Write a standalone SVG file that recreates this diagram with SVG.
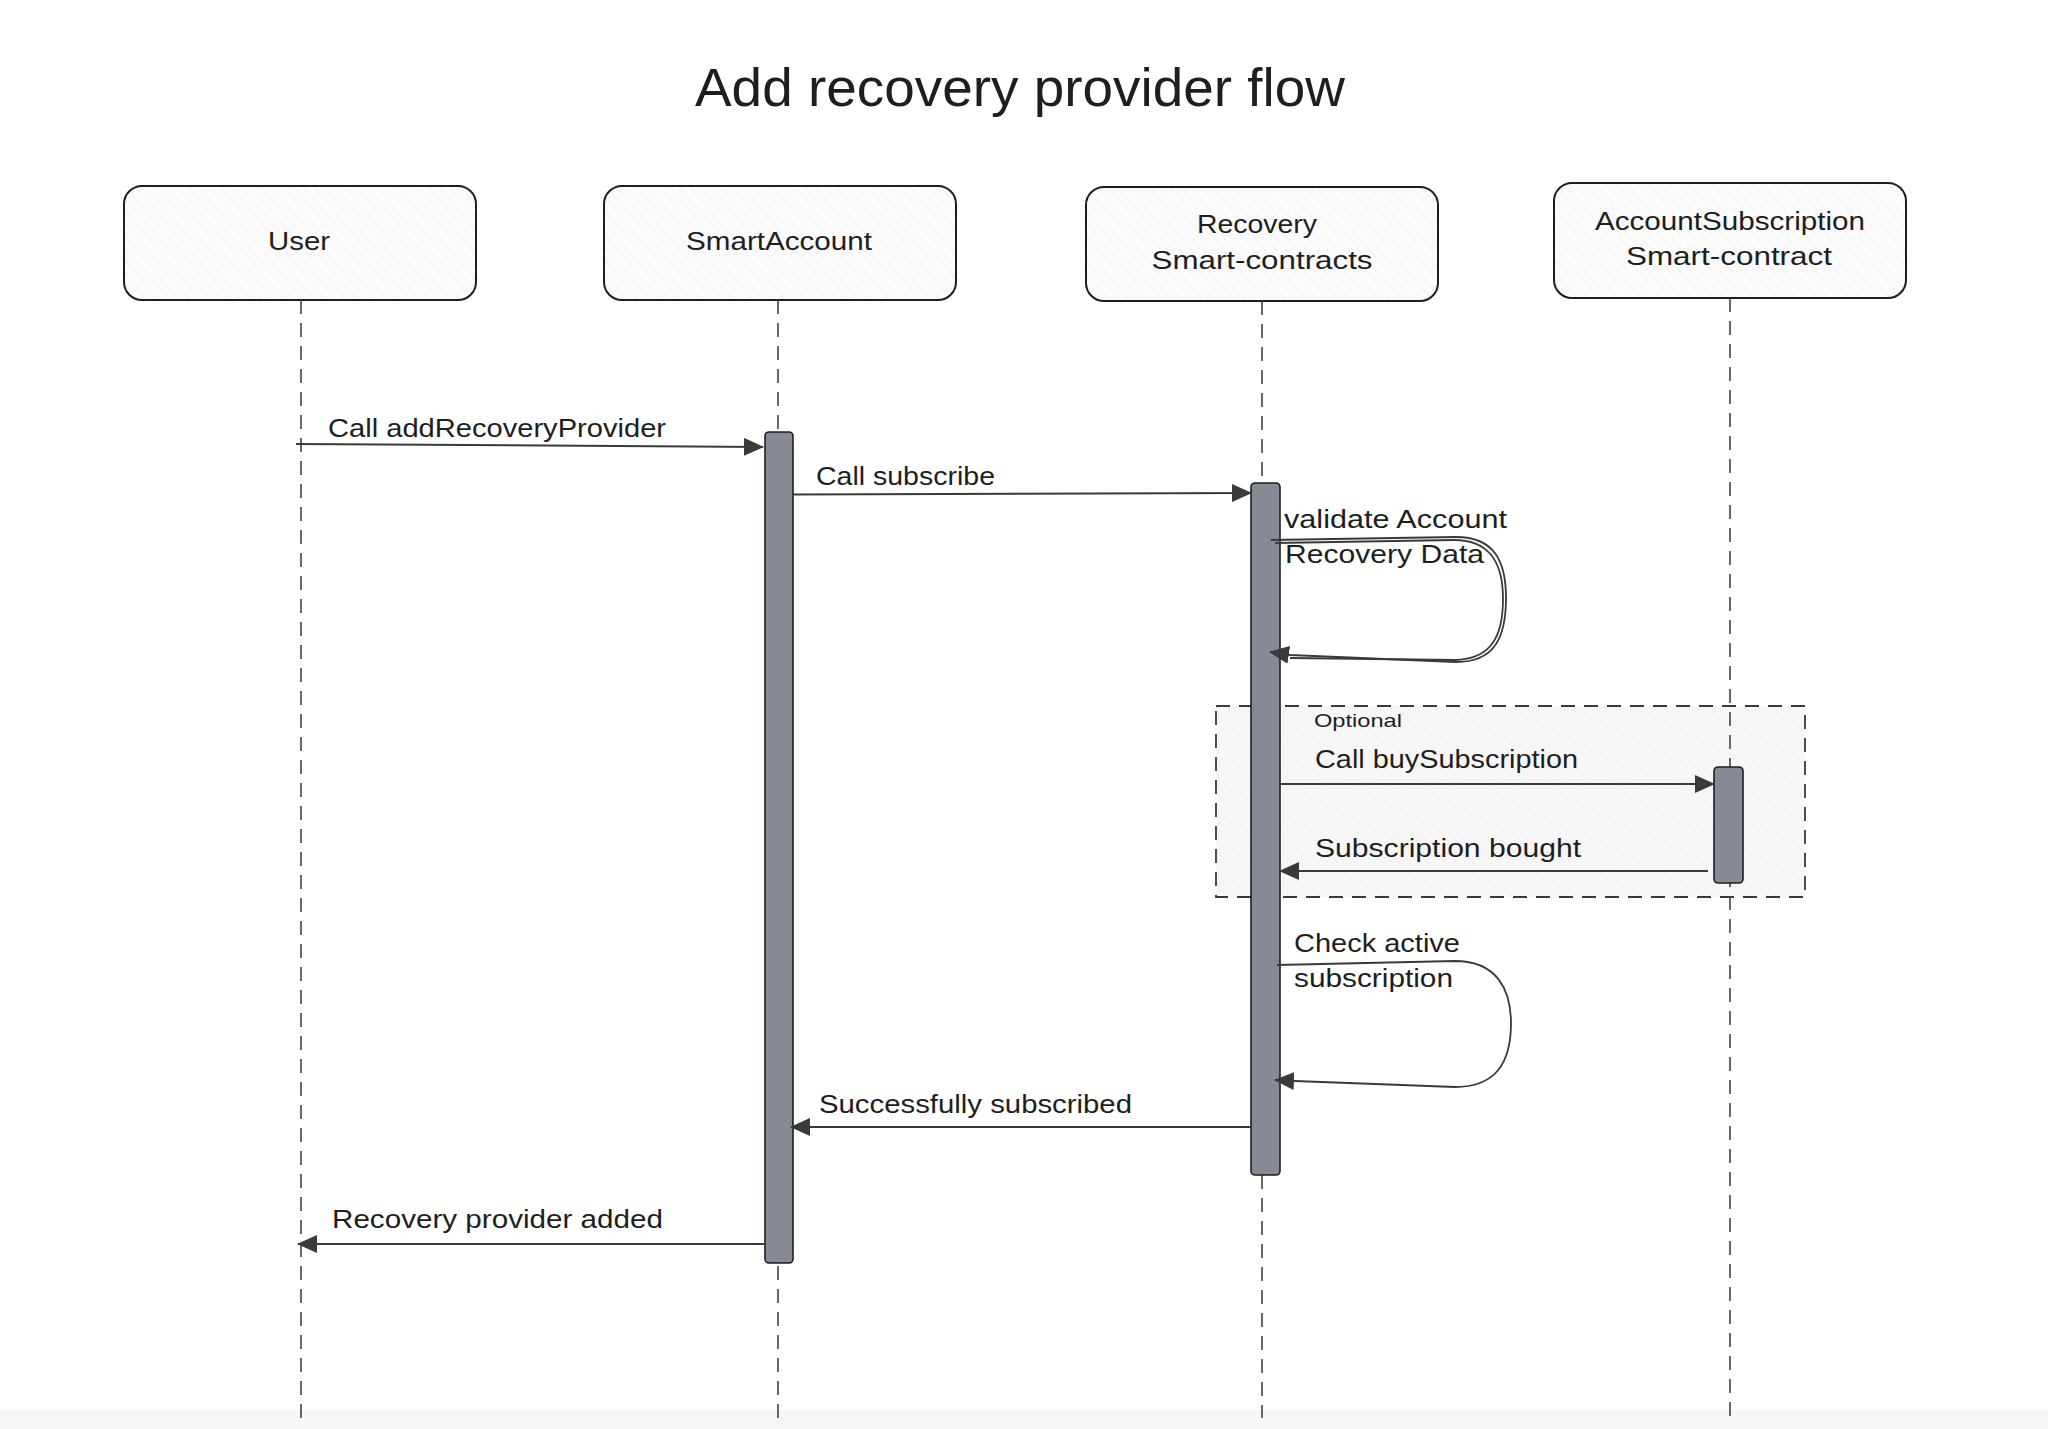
<svg xmlns="http://www.w3.org/2000/svg" width="2048" height="1429" viewBox="0 0 2048 1429">
  <defs>
    <pattern id="hatch" patternUnits="userSpaceOnUse" width="8" height="8" patternTransform="rotate(-40)">
      <rect width="8" height="8" fill="#fbfbfb"/>
      <line x1="0" y1="0" x2="0" y2="8" stroke="#ececec" stroke-width="1.2"/>
    </pattern>
    <pattern id="hatchframe" patternUnits="userSpaceOnUse" width="7" height="7" patternTransform="rotate(-40)">
      <rect width="7" height="7" fill="#f7f7f7"/>
      <line x1="0" y1="0" x2="0" y2="7" stroke="#efefef" stroke-width="1.2"/>
    </pattern>
    <marker id="arrow" markerUnits="userSpaceOnUse" markerWidth="20" markerHeight="18" viewBox="0 0 20 18" refX="19" refY="9" orient="auto">
      <path d="M0,0 L20,9 L0,18 Z" fill="#3a3a3a"/>
    </marker>
    <style>
      .box { fill: url(#hatch); stroke: #1e1e1e; stroke-width: 2; }
      .life { stroke: #444; stroke-width: 1.6; stroke-dasharray: 14 9; fill: none; }
      .bar { fill: #868b93; stroke: #1e1e1e; stroke-width: 1.6; }
      .msg { stroke: #3a3a3a; stroke-width: 2; fill: none; marker-end: url(#arrow); }
      .loop { stroke: #3a3a3a; stroke-width: 1.8; fill: none; }
      .t { font-family: "Liberation Sans", Arial, sans-serif; fill: #1e1e1e; }
      .node { font-size: 25px; text-anchor: middle; }
      .lbl { font-size: 25px; }
      .small { font-size: 19px; }
      .title { font-size: 54px; text-anchor: middle; }
    </style>
  </defs>

  <rect x="0" y="0" width="2048" height="1429" fill="#ffffff"/>
  <rect x="0" y="1410" width="2048" height="19" fill="#f6f6f6"/>

  <g id="title">
    <text class="t title" x="1020" y="106" textLength="650" lengthAdjust="spacingAndGlyphs">Add recovery provider flow</text>
  </g>

  <g id="frame-optional">
    <rect x="1216" y="706" width="589" height="191" fill="url(#hatchframe)" stroke="#3a3a3a" stroke-width="1.8" stroke-dasharray="14 9"/>
    <text class="t small" x="1314" y="727" textLength="88" lengthAdjust="spacingAndGlyphs">Optional</text>
  </g>

  <g id="node-user">
    <rect class="box" x="124" y="186" width="352" height="114" rx="18"/>
    <text class="t node" x="299" y="250" textLength="62" lengthAdjust="spacingAndGlyphs">User</text>
    <line class="life" x1="301" y1="300" x2="301" y2="1418"/>
  </g>

  <g id="node-smartaccount">
    <rect class="box" x="604" y="186" width="352" height="114" rx="18"/>
    <text class="t node" x="779" y="250" textLength="186" lengthAdjust="spacingAndGlyphs">SmartAccount</text>
    <line class="life" x1="778" y1="300" x2="778" y2="1418"/>
    <rect class="bar" x="765" y="432" width="28" height="831" rx="4"/>
  </g>

  <g id="node-recovery">
    <rect class="box" x="1086" y="187" width="352" height="114" rx="18"/>
    <text class="t node" x="1257" y="233" textLength="120" lengthAdjust="spacingAndGlyphs">Recovery</text>
    <text class="t node" x="1262" y="269" textLength="221" lengthAdjust="spacingAndGlyphs">Smart-contracts</text>
    <line class="life" x1="1262" y1="301" x2="1262" y2="1418"/>
    <rect class="bar" x="1251" y="483" width="29" height="692" rx="4"/>
  </g>

  <g id="node-accountsubscription">
    <rect class="box" x="1554" y="183" width="352" height="115" rx="18"/>
    <text class="t node" x="1730" y="230" textLength="270" lengthAdjust="spacingAndGlyphs">AccountSubscription</text>
    <text class="t node" x="1729" y="265" textLength="206" lengthAdjust="spacingAndGlyphs">Smart-contract</text>
    <line class="life" x1="1730" y1="298" x2="1730" y2="1418"/>
    <rect class="bar" x="1714" y="767" width="29" height="116" rx="4"/>
  </g>

  <g id="connectors">
    <path class="msg" d="M296,444 L763,447"/>
    <path class="msg" d="M793,494.5 L1251,493"/>
    <path class="loop" marker-end="url(#arrow)" d="M1271,540 L1456,537 C1495,537 1506,562 1506,598 C1506,640 1493,662 1456,662 L1290,655 L1270,652"/>
    <path class="loop" stroke-width="1" d="M1275,543 L1454,540 C1491,540 1503,564 1503,599 C1503,638 1490,659 1455,660 L1290,658"/>
    <path class="msg" d="M1280,784 L1714,784"/>
    <path class="msg" d="M1708,871 L1280,871"/>
    <path class="loop" marker-end="url(#arrow)" d="M1277,965 L1455,961 C1497,961 1511,990 1511,1023 C1511,1065 1494,1087 1455,1087 L1295,1081 L1275,1080"/>
    <path class="msg" d="M1251,1127 L791,1127"/>
    <path class="msg" d="M765,1244 L298,1244"/>
  </g>

  <g id="labels">
    <text class="t lbl" x="328" y="437" textLength="338" lengthAdjust="spacingAndGlyphs">Call addRecoveryProvider</text>
    <text class="t lbl" x="816" y="485" textLength="179" lengthAdjust="spacingAndGlyphs">Call subscribe</text>
    <text class="t lbl" x="1284" y="528" textLength="223" lengthAdjust="spacingAndGlyphs">validate Account</text>
    <text class="t lbl" x="1285" y="563" textLength="199" lengthAdjust="spacingAndGlyphs">Recovery Data</text>
    <text class="t lbl" x="1315" y="768" textLength="263" lengthAdjust="spacingAndGlyphs">Call buySubscription</text>
    <text class="t lbl" x="1315" y="857" textLength="266" lengthAdjust="spacingAndGlyphs">Subscription bought</text>
    <text class="t lbl" x="1294" y="952" textLength="166" lengthAdjust="spacingAndGlyphs">Check active</text>
    <text class="t lbl" x="1294" y="987" textLength="159" lengthAdjust="spacingAndGlyphs">subscription</text>
    <text class="t lbl" x="819" y="1113" textLength="313" lengthAdjust="spacingAndGlyphs">Successfully subscribed</text>
    <text class="t lbl" x="332" y="1228" textLength="331" lengthAdjust="spacingAndGlyphs">Recovery provider added</text>
  </g>
</svg>
